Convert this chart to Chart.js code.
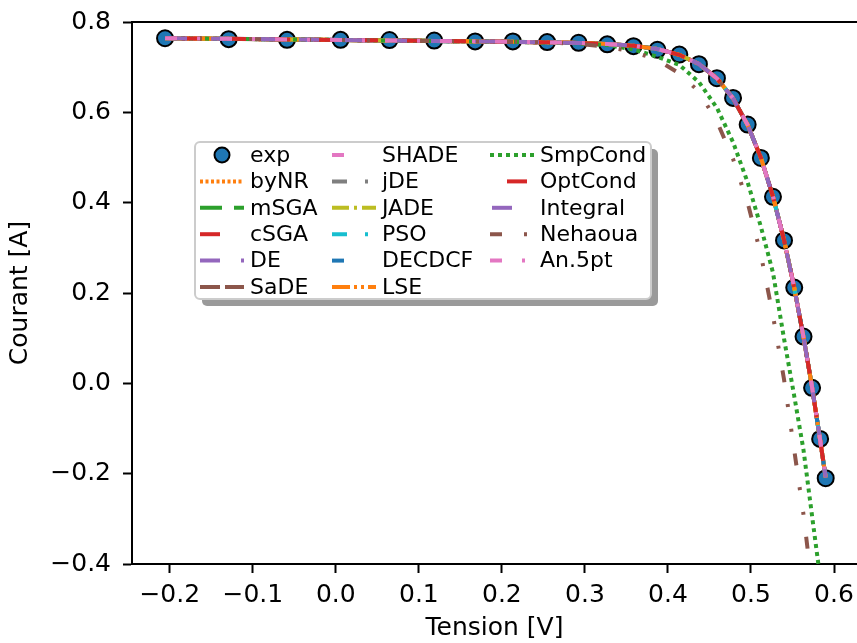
<!DOCTYPE html>
<html>
<head>
<meta charset="utf-8">
<script src="https://cdn.jsdelivr.net/npm/chart.js@4/dist/chart.umd.min.js"></script>
<style>
  html, body { margin: 0; padding: 0; background: #fff; }
</style>
</head>
<body>
<canvas id="myChart" width="857" height="643"></canvas>
<script>
const voltage = [-0.2057, -0.1291, -0.0588, 0.0057, 0.0646, 0.1185, 0.1678, 0.2132, 0.2545,
  0.2924, 0.3269, 0.3585, 0.3873, 0.4137, 0.4373, 0.4590, 0.4784, 0.4960, 0.5119, 0.5265,
  0.5398, 0.5521, 0.5633, 0.5736, 0.5833, 0.5900];
const currentExp = [0.7640, 0.7620, 0.7605, 0.7605, 0.7600, 0.7590, 0.7570, 0.7570, 0.7555,
  0.7540, 0.7505, 0.7465, 0.7385, 0.7280, 0.7065, 0.6755, 0.6320, 0.5730, 0.4990, 0.4130,
  0.3165, 0.2120, 0.1035, -0.0100, -0.1230, -0.2100];
// all the good fits sit on top of each other
const currentFit = [0.7641, 0.7627, 0.7614, 0.7602, 0.7591, 0.7580, 0.7571, 0.7561, 0.7550,
  0.7536, 0.7513, 0.7474, 0.7401, 0.7274, 0.7070, 0.6753, 0.6310, 0.5721, 0.4996, 0.4137,
  0.3175, 0.2121, 0.1022, -0.0087, -0.1255, -0.2085];
const currentSmpCond = [0.7641, 0.7627, 0.7614, 0.7602, 0.7591, 0.7580, 0.7570, 0.7559, 0.7546,
  0.7528, 0.7490, 0.7390, 0.7230, 0.7050, 0.6670, 0.6100, 0.5340, 0.4450, 0.3470, 0.2450,
  0.0990, -0.0280, -0.1480, -0.2940, -0.4300, -0.5300];
const currentNehaoua = [0.7641, 0.7627, 0.7614, 0.7602, 0.7591, 0.7580, 0.7570, 0.7559, 0.7546,
  0.7515, 0.7450, 0.7340, 0.7160, 0.6860, 0.6460, 0.5800, 0.4970, 0.4000, 0.2850, 0.1500,
  0.0090, -0.1480, -0.2910, -0.4500, -0.6000, -0.7000];

const seriesLabels = ["byNR", "mSGA", "cSGA", "DE", "SaDE", "SHADE", "jDE", "JADE", "PSO",
  "DECDCF", "LSE", "SmpCond", "OptCond", "Integral", "Nehaoua", "An.5pt"];
const seriesCurrents = [currentFit, currentFit, currentFit, currentFit, currentFit, currentFit,
  currentFit, currentFit, currentFit, currentFit, currentFit, currentSmpCond, currentFit,
  currentFit, currentNehaoua, currentFit];

const xTicks = [-0.2, -0.1, 0.0, 0.1, 0.2, 0.3, 0.4, 0.5, 0.6];
const yTicks = [-0.4, -0.2, 0.0, 0.2, 0.4, 0.6, 0.8];

// line looks (matplotlib tab colours + dash patterns)
const styles = [
  { color: "#ff7f0e", dash: [3, 2.5] },
  { color: "#2ca02c", dash: [22, 12] },
  { color: "#d62728", dash: [20, 24] },
  { color: "#9467bd", dash: [20, 21, 3, 21] },
  { color: "#8c564b", dash: [20, 5] },
  { color: "#e377c2", dash: [12, 36] },
  { color: "#7f7f7f", dash: [15, 18, 3, 18] },
  { color: "#bcbd22", dash: [17, 5, 3, 5] },
  { color: "#17becf", dash: [15, 18, 3, 18] },
  { color: "#1f77b4", dash: [12, 36] },
  { color: "#ff7f0e", dash: [18, 4, 3, 4, 3, 4] },
  { color: "#2ca02c", dash: [4, 4] },
  { color: "#d62728", dash: [20, 24], offset: 27 },
  { color: "#9467bd", dash: [20, 24], offset: 42 },
  { color: "#8c564b", dash: [12, 22, 3, 22, 3, 22] },
  { color: "#e377c2", dash: [12, 20, 3, 20] }
];

const pts = (ys) => voltage.map((v, i) => ({ x: v, y: ys[i] }));

const datasets = [{
  label: "exp",
  data: pts(currentExp),
  showLine: false,
  pointRadius: 8,
  pointBorderWidth: 2,
  pointBackgroundColor: "#1f77b4",
  pointBorderColor: "#000",
  order: 50
}];
seriesLabels.forEach((lab, i) => {
  datasets.push({
    label: lab,
    data: pts(seriesCurrents[i]),
    showLine: true,
    pointRadius: 0,
    borderWidth: 4,
    borderColor: styles[i].color,
    borderDash: styles[i].dash,
    borderDashOffset: styles[i].offset || 0,
    order: 20 - i
  });
});

const minus = (v) => v.toFixed(1).replace("-", "\u2212");

const frameAndLegend = {
  id: "frameAndLegend",
  afterDraw(chart) {
    const ctx = chart.ctx;
    const a = chart.chartArea;
    ctx.save();
    // top spine
    ctx.strokeStyle = "#000";
    ctx.lineWidth = 2;
    ctx.beginPath();
    ctx.moveTo(a.left, a.top);
    ctx.lineTo(a.right, a.top);
    ctx.stroke();

    // legend frame with shadow
    const bx = 195, by = 142, bw = 456, bh = 157;
    ctx.fillStyle = "#9a9a9a";
    ctx.beginPath();
    ctx.roundRect(bx + 7, by + 7, bw, bh, 5);
    ctx.fill();
    ctx.fillStyle = "#fff";
    ctx.strokeStyle = "#cccccc";
    ctx.lineWidth = 2;
    ctx.beginPath();
    ctx.roundRect(bx, by, bw, bh, 5);
    ctx.fill();
    ctx.stroke();

    const colX = [200, 332, 490];
    const rowY0 = 155, rowH = 26.4, handleLen = 44;
    ctx.font = "22px 'DejaVu Sans'";
    ctx.textBaseline = "middle";
    ctx.fillStyle = "#000";
    chart.data.datasets.forEach((ds, k) => {
      const col = Math.floor(k / 6), row = k % 6;
      const hx = colX[col], y = rowY0 + row * rowH;
      if (k === 0) {
        ctx.beginPath();
        ctx.arc(hx + handleLen / 2, y, 7.5, 0, Math.PI * 2);
        ctx.fillStyle = ds.pointBackgroundColor;
        ctx.fill();
        ctx.lineWidth = 2;
        ctx.strokeStyle = "#000";
        ctx.stroke();
      } else {
        ctx.beginPath();
        ctx.setLineDash(ds.borderDash);
        ctx.lineDashOffset = ds.borderDashOffset;
        ctx.strokeStyle = ds.borderColor;
        ctx.lineWidth = 4;
        ctx.moveTo(hx, y);
        ctx.lineTo(hx + handleLen, y);
        ctx.stroke();
        ctx.setLineDash([]);
        ctx.lineDashOffset = 0;
      }
      ctx.fillStyle = "#000";
      ctx.fillText(ds.label, hx + 50, y + 1);
    });
    ctx.restore();
  }
};

Chart.defaults.font.family = "'DejaVu Sans', sans-serif";
Chart.defaults.color = "#000";

new Chart("myChart", {
  type: "scatter",
  data: { datasets: datasets },
  options: {
    responsive: false,
    animation: false,
    layout: { autoPadding: false, padding: { top: 22, left: 0, right: 0, bottom: 0 } },
    plugins: { legend: { display: false }, tooltip: { enabled: false } },
    scales: {
      x: {
        type: "linear",
        min: -0.2455,
        max: 0.6277,
        border: { display: true, color: "#000", width: 2 },
        grid: { drawOnChartArea: false, drawTicks: true, tickLength: 9, tickWidth: 2, tickColor: "#000" },
        ticks: { font: { size: 25, lineHeight: 1.2 }, padding: 7, maxRotation: 0, callback: (v) => minus(v) },
        afterBuildTicks: (s) => { s.ticks = xTicks.map((v) => ({ value: v })); },
        afterFit: (s) => { s.height = 79; s.paddingLeft = 0; s.paddingRight = 0; },
        title: { display: true, text: "Tension [V]", font: { size: 25, lineHeight: 1 }, padding: { top: 0, bottom: 2 } }
      },
      y: {
        type: "linear",
        min: -0.4,
        max: 0.8,
        border: { display: true, color: "#000", width: 2 },
        grid: { drawOnChartArea: false, drawTicks: true, tickLength: 9, tickWidth: 2, tickColor: "#000" },
        ticks: { font: { size: 25, lineHeight: 1.2 }, padding: 12, callback: (v) => minus(v) },
        afterBuildTicks: (s) => { s.ticks = yTicks.map((v) => ({ value: v })); },
        afterFit: (s) => { s.width = 132; s.paddingTop = 0; s.paddingBottom = 0; },
        title: { display: true, text: "Courant [A]", font: { size: 25, lineHeight: 1 }, padding: { top: 8, bottom: 0 } }
      }
    }
  },
  plugins: [frameAndLegend]
});
</script>
</body>
</html>
